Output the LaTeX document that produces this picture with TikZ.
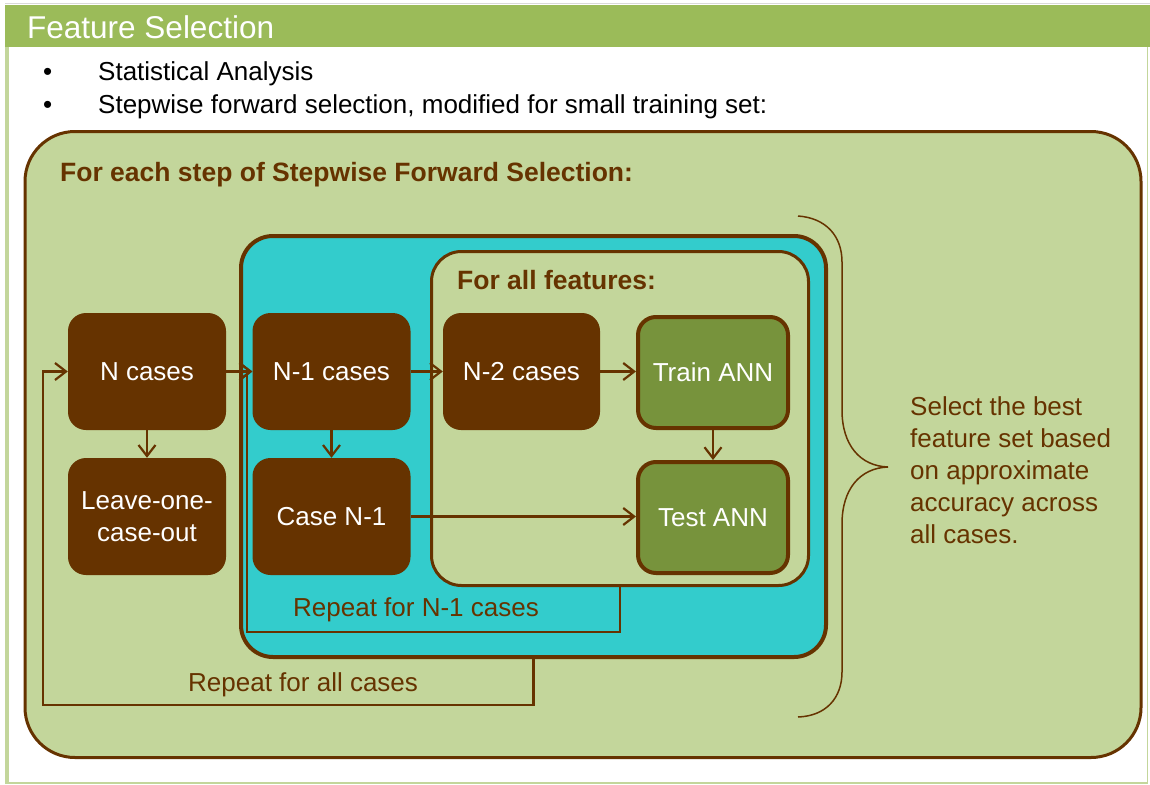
\documentclass[tikz,border=0pt]{standalone}
\usepackage{fontspec}
\setmainfont{Liberation Sans}
\usetikzlibrary{arrows.meta}
\definecolor{brn}{HTML}{663300}
\definecolor{lgreen}{HTML}{C3D69B}
\definecolor{tgreen}{HTML}{9BBB59}
\definecolor{cyanbox}{HTML}{33CCCC}
\definecolor{anngreen}{HTML}{77933C}
\begin{document}
\begin{tikzpicture}[x=1pt,y=-1pt,
  txt/.style={font=\fontsize{26}{32}\selectfont, inner sep=0pt},
  boxtxt/.style={txt, text=brn},
  brownbox/.style={txt, fill=brn, text=white, rounded corners=18pt, minimum width=158pt, minimum height=117pt, align=center},
  annbox/.style={txt, fill=anngreen, draw=brn, line width=4pt, text=white, rounded corners=18pt, minimum width=150pt, minimum height=111pt, align=center},
  framebox/.style={draw=brn, inner sep=0pt},
  arr/.style={draw=brn, line width=2.2pt, -{Straight Barb[length=11pt,width=17pt,line width=2.2pt]}},
]
\useasboundingbox (0,0) rectangle (1150,784);
% page frame
\draw[gray!30, line width=1pt] (5,4) -- (1150,4);
\fill[tgreen] (5,5) rectangle (1150,47);
\draw[lgreen, line width=1.5pt] (6,47) -- (6,783) -- (1147.5,783) -- (1147.5,47);
\fill[lgreen] (5,47) rectangle (9,783);
\node[anchor=base west, inner sep=0pt, text=white, font=\fontsize{31.5}{36}\selectfont] (title) at (27,39) {Feature Selection};
% bullets
\node[txt, anchor=base west] (b1) at (43,80) {•};
\node[txt, anchor=base west] (t1) at (98,80) {Statistical Analysis};
\node[txt, anchor=base west] (b2) at (43,113) {•};
\node[txt, anchor=base west] (t2) at (98,113) {Stepwise forward selection, modified for small training set:};
% frames
\node[framebox, fill=lgreen, line width=3pt, rounded corners=50pt, minimum width=1116pt, minimum height=626pt, anchor=north west] (outer) at (23.5,130) {};
\node[boxtxt, font=\fontsize{26.5}{32}\selectfont\bfseries, anchor=base west] (lab1) at (60,181) {For each step of Stepwise Forward Selection:};
\node[framebox, fill=cyanbox, line width=4pt, rounded corners=32pt, minimum width=585pt, minimum height=421pt, anchor=north west] (cyan) at (239,234) {};
\node[framebox, fill=lgreen, line width=3pt, rounded corners=30pt, minimum width=377pt, minimum height=334pt, anchor=north west] (inner) at (430,250) {};
\node[boxtxt, font=\fontsize{26.5}{32}\selectfont\bfseries, anchor=base west] (lab2) at (457,289) {For all features:};
% process nodes
\node[brownbox] (n0) at (147,371.5) {N cases};
\node[brownbox] (leave) at (147,516.5) {Leave-one-\\case-out};
\node[brownbox] (n1) at (331.5,371.5) {N-1 cases};
\node[brownbox] (casen) at (331.5,516.5) {Case N-1};
\node[brownbox, minimum width=157pt] (n2) at (521.5,371.5) {N-2 cases};
\node[annbox] (train) at (713,372.5) {Train ANN};
\node[annbox] (test) at (713,517.5) {Test ANN};
% connectors
\draw[arr] (n0) -- (n1);
\draw[arr] (n1) -- (n2);
\draw[arr] (n2.east) -- (n2.east -| train.west);
\draw[arr] (n0) -- (leave);
\draw[arr] (n1) -- (casen);
\draw[arr] (train) -- (test);
\draw[arr] (casen.east) -- (casen.east -| test.west);
% loops
\coordinate (lp1) at (247,632);
\coordinate (lp2) at (43,705);
\draw[arr] (inner.south) |- (lp1) |- (n1.west);
\draw[arr] (cyan.south) |- (lp2) |- (n0.west);
\node[boxtxt, anchor=west] (rep1) at (293,610) {Repeat for N-1 cases};
\node[boxtxt, anchor=west] (rep2) at (188,685) {Repeat for all cases};
% brace
\draw[brn, line width=1.5pt] (798,216) .. controls (826,218) and (842,236) .. (842,262) -- (842,410) .. controls (842,445) and (860,466) .. (888,467) .. controls (860,468) and (842,489) .. (842,524) -- (842,672) .. controls (842,698) and (826,716) .. (798,717);
\node[boxtxt, anchor=west, align=left] (sel) at (910,470) {Select the best\\feature set based\\on approximate\\accuracy across\\all cases.};
\end{tikzpicture}
\end{document}
